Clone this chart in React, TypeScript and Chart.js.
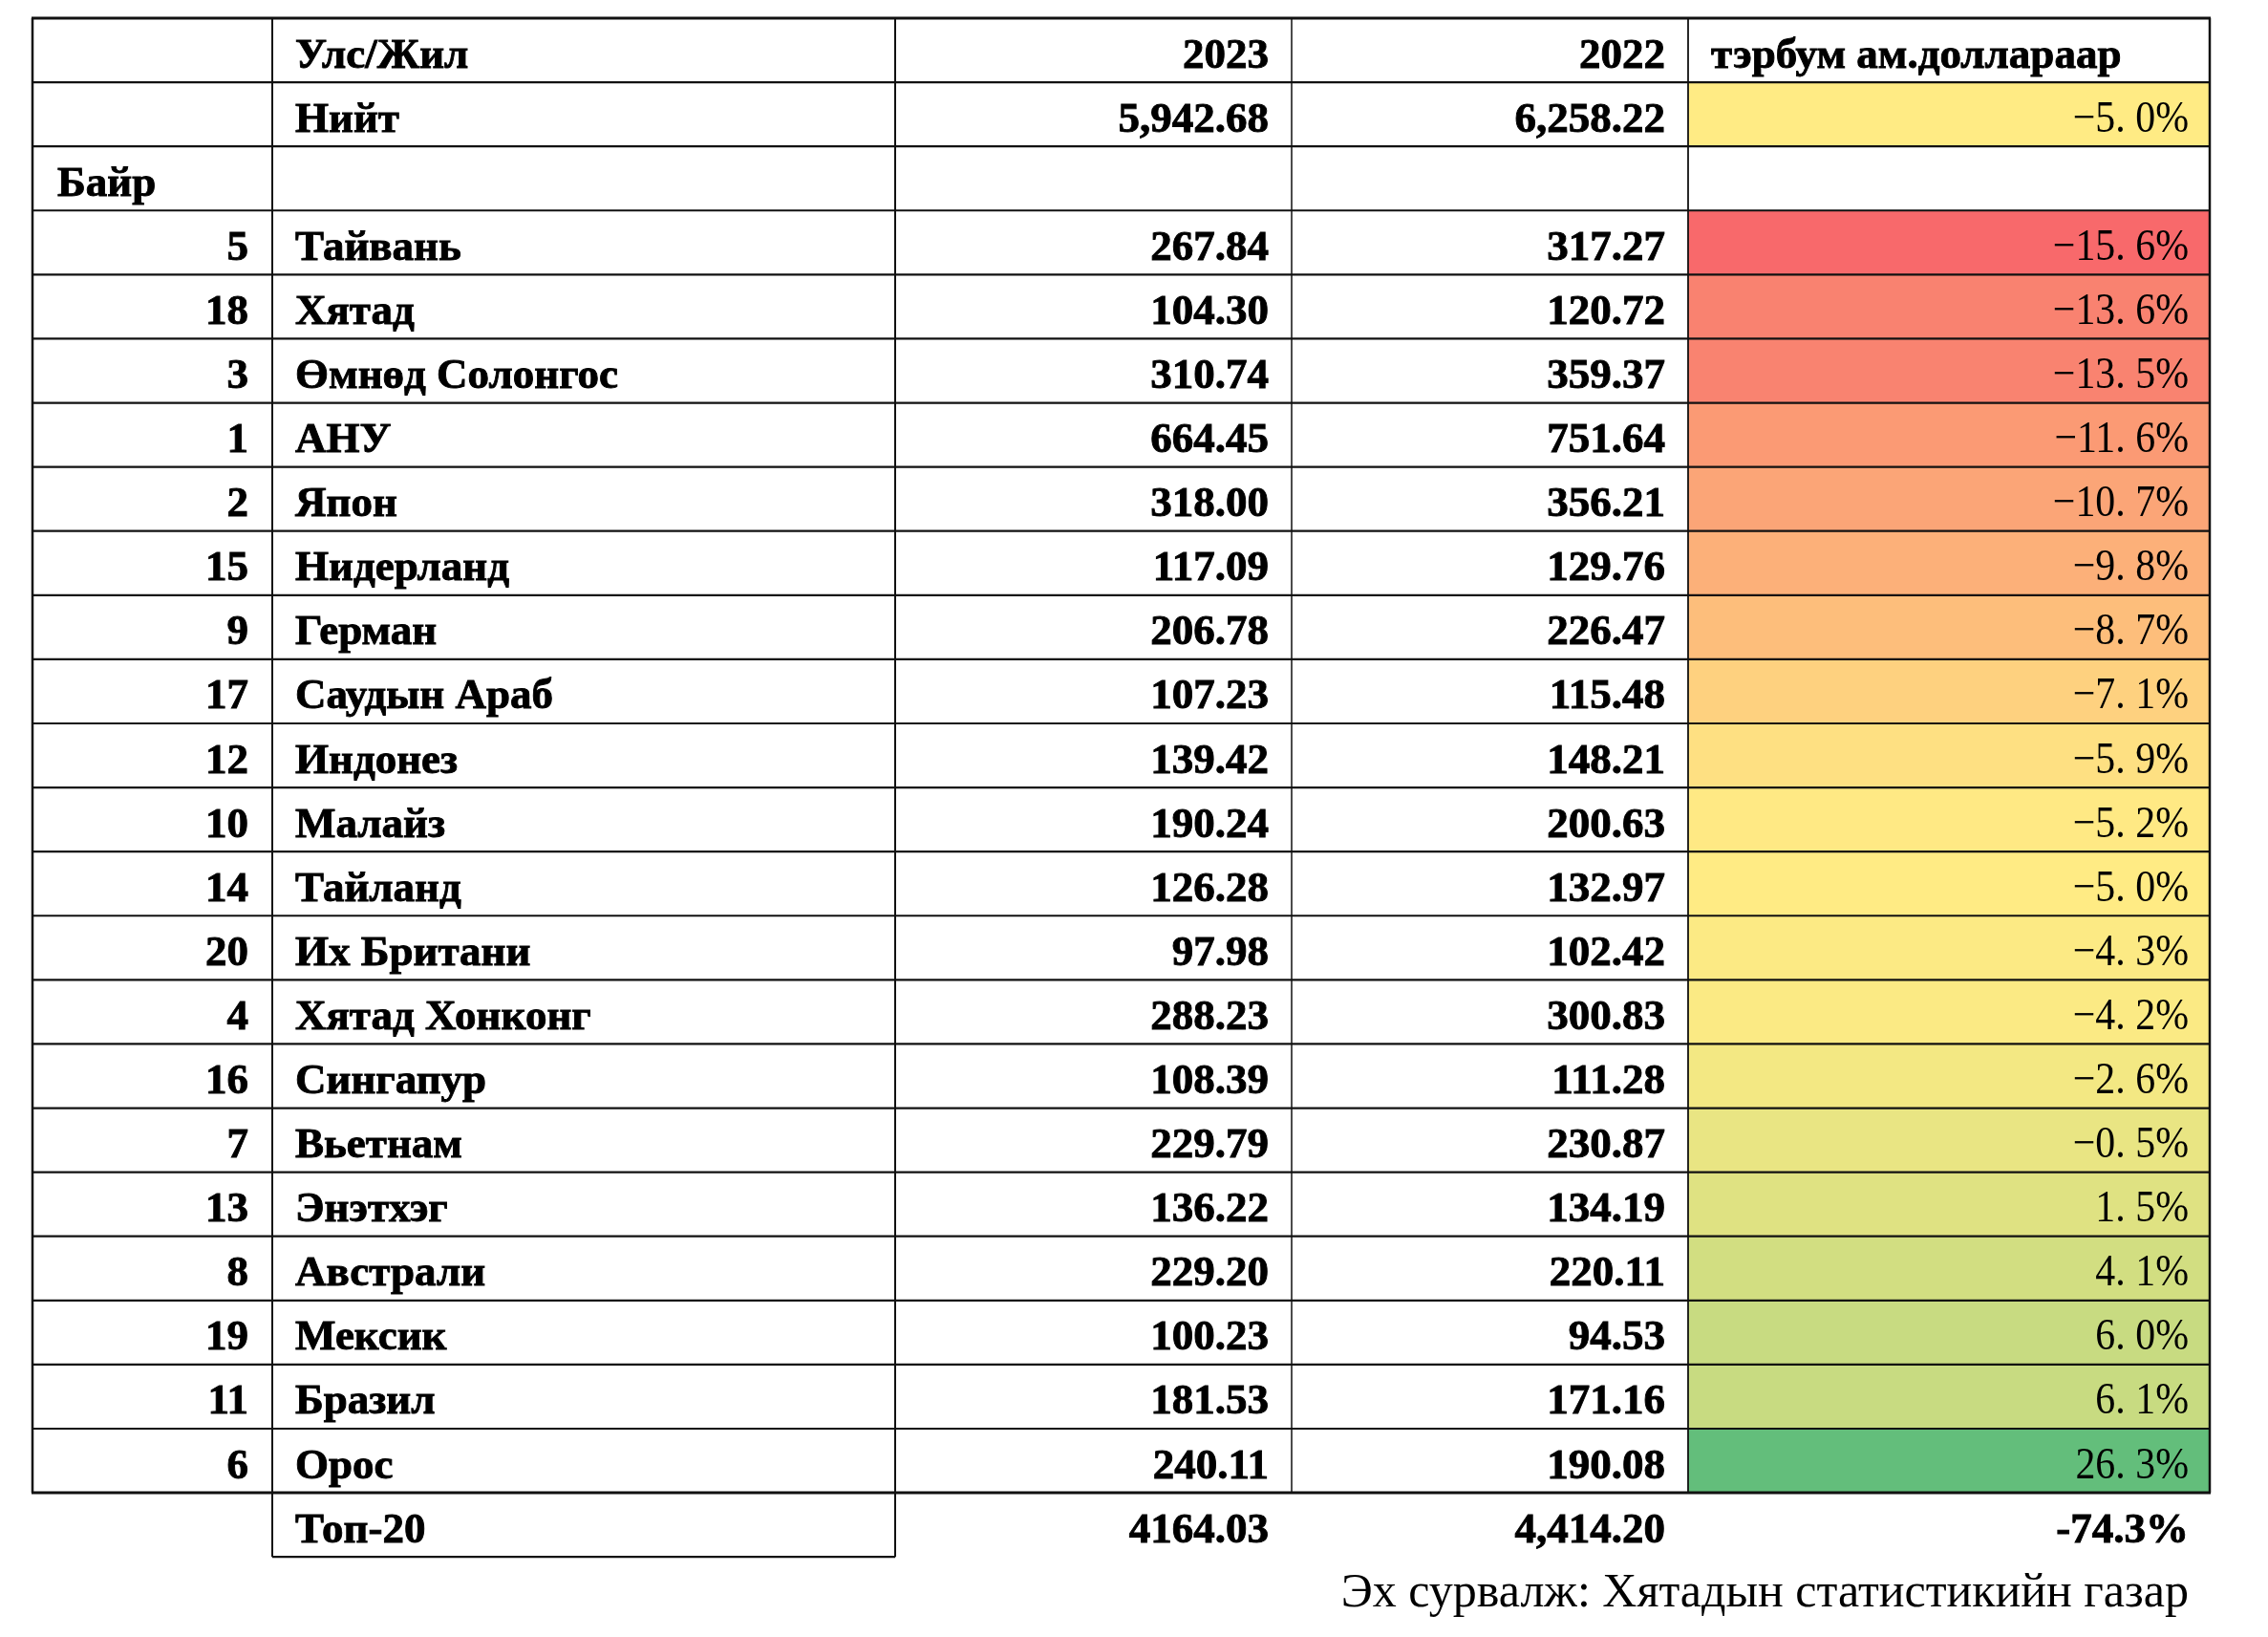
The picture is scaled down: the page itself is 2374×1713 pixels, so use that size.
import React, { useEffect, useRef } from "react";
import { Chart, registerables } from "chart.js";

Chart.register(...registerables);

// ---------- data ----------
const headerLabels = ["Улс/Жил", "2023", "2022", "тэрбум ам.доллараар"];
const totalLabel = "Нийт";
const totalValues = [5942.68, 6258.22];
const totalChange = -5.0;
const rankHeader = "Байр";
const ranks = [5, 18, 3, 1, 2, 15, 9, 17, 12, 10, 14, 20, 4, 16, 7, 13, 8, 19, 11, 6];
const countries = [
  "Тайвань", "Хятад", "Өмнөд Солонгос", "АНУ", "Япон", "Нидерланд", "Герман",
  "Саудын Араб", "Индонез", "Малайз", "Тайланд", "Их Британи", "Хятад Хонконг",
  "Сингапур", "Вьетнам", "Энэтхэг", "Австрали", "Мексик", "Бразил", "Орос",
];
const values2023 = [267.84, 104.3, 310.74, 664.45, 318.0, 117.09, 206.78, 107.23, 139.42, 190.24,
  126.28, 97.98, 288.23, 108.39, 229.79, 136.22, 229.2, 100.23, 181.53, 240.11];
const values2022 = [317.27, 120.72, 359.37, 751.64, 356.21, 129.76, 226.47, 115.48, 148.21, 200.63,
  132.97, 102.42, 300.83, 111.28, 230.87, 134.19, 220.11, 94.53, 171.16, 190.08];
const changePct = [-15.6, -13.6, -13.5, -11.6, -10.7, -9.8, -8.7, -7.1, -5.9, -5.2,
  -5.0, -4.3, -4.2, -2.6, -0.5, 1.5, 4.1, 6.0, 6.1, 26.3];
const top20Label = "Топ-20";
const top20Texts = ["4164.03", "4,414.20", "-74.3%"];
const sourceText = "Эх сурвалж: Хятадын статистикийн газар";

// ---------- layout (styles) ----------
const W = 2374;
const H = 1713;
const COL_EDGES = [0, 251, 903, 1318, 1733, 2279]; // x-scale units
const ROW_H = 67.09;
const N_ROWS = 25;
const PAD = { left: 34, right: W - 34 - 2279, top: 19, bottom: H - 19 - N_ROWS * ROW_H };
const BOLD = "bold 45px 'Liberation Serif', 'Times New Roman', serif";
const REG = "50px 'Liberation Serif', 'Times New Roman', serif";
const PCT_FONT = "45px 'Liberation Serif', 'Times New Roman', serif";

const rowKeys = Array.from({ length: N_ROWS }, (_, i) => "r" + i);

function fmt(v: number, comma: boolean) {
  const s = v.toFixed(2);
  if (!comma) return s;
  const [a, b] = s.split(".");
  return a.replace(/\B(?=(\d{3})+(?!\d))/g, ",") + "." + b;
}
function fmtPct(v: number) {
  const s = Math.abs(v).toFixed(1);
  const [a, b] = s.split(".");
  return (v < 0 ? "−" : "") + a + ". " + b + "%";
}

function colorScale(v: number, lo: number, mid: number, hi: number) {
  const red = [248, 105, 107];
  const yel = [255, 235, 132];
  const grn = [99, 190, 123];
  let a: number[], b: number[], t: number;
  if (v <= mid) {
    a = red; b = yel; t = (v - lo) / (mid - lo || 1);
  } else {
    a = yel; b = grn; t = (v - mid) / (hi - mid || 1);
  }
  t = Math.max(0, Math.min(1, t));
  const c = a.map((x, i) => Math.round(x + (b[i] - x) * t));
  return `rgb(${c[0]},${c[1]},${c[2]})`;
}

export default function App() {
  const ref = useRef<HTMLCanvasElement>(null);
  useEffect(() => {
    const all = [totalChange, ...changePct].slice().sort((a, b) => a - b);
    const lo = all[0];
    const hi = all[all.length - 1];
    const mid = all[Math.floor(all.length / 2)];

    const barData: any[] = rowKeys.map(() => null);
    const barColors: string[] = rowKeys.map(() => "rgba(0,0,0,0)");
    barData[1] = [COL_EDGES[4], COL_EDGES[5]];
    barColors[1] = colorScale(totalChange, lo, mid, hi);
    changePct.forEach((v, i) => {
      barData[3 + i] = [COL_EDGES[4], COL_EDGES[5]];
      barColors[3 + i] = colorScale(v, lo, mid, hi);
    });

    const tablePlugin = {
      id: "tablePlugin",
      afterDatasetsDraw(chart: any) {
        const ctx = chart.ctx as CanvasRenderingContext2D;
        const xs = chart.scales.x;
        const ys = chart.scales.y;
        const X = (v: number) => xs.getPixelForValue(v);
        const half = (ys.getPixelForValue(1) - ys.getPixelForValue(0)) / 2;
        const top = (r: number) => ys.getPixelForValue(r) - half;
        const base = (r: number) => ys.getPixelForValue(r) + half - 15.5;
        ctx.save();
        const hline = (y: number, x0: number, x1: number, w: number) => {
          ctx.beginPath(); ctx.lineWidth = w; ctx.strokeStyle = "#111";
          ctx.moveTo(x0, y); ctx.lineTo(x1, y); ctx.stroke();
        };
        const vline = (x: number, y0: number, y1: number, w: number) => {
          ctx.beginPath(); ctx.lineWidth = w; ctx.strokeStyle = "#111";
          ctx.moveTo(x, y0); ctx.lineTo(x, y1); ctx.stroke();
        };
        for (let r = 0; r <= 23; r++) {
          hline(top(r), X(COL_EDGES[0]) - 1, X(COL_EDGES[5]) + 1, r === 0 || r === 23 ? 3 : 2.2);
        }
        hline(top(24), X(COL_EDGES[1]), X(COL_EDGES[2]), 2.2);
        vline(X(COL_EDGES[0]), top(0), top(23), 2.5);
        vline(X(COL_EDGES[1]), top(0), top(24), 2);
        vline(X(COL_EDGES[2]), top(0), top(24), 2);
        vline(X(COL_EDGES[3]), top(0), top(23), 1.5);
        vline(X(COL_EDGES[4]), top(0), top(23), 1.8);
        vline(X(COL_EDGES[5]), top(0), top(23), 2.5);

        ctx.fillStyle = "#000";
        ctx.strokeStyle = "#000";
        const text = (s: string, x: number, r: number, align: CanvasTextAlign, font: string) => {
          ctx.font = font; ctx.textAlign = align; ctx.textBaseline = "alphabetic";
          ctx.fillText(s, x, base(r));
          if (font === BOLD) {
            ctx.lineWidth = 0.9;
            ctx.strokeText(s, x, base(r));
          }
        };
        const pct = (s: string, x: number, r: number) => {
          ctx.save();
          ctx.translate(x, base(r));
          ctx.scale(0.93, 1.04);
          ctx.font = PCT_FONT; ctx.textAlign = "right"; ctx.textBaseline = "alphabetic";
          ctx.fillText(s, 0, 0);
          ctx.restore();
        };
        const cLeft = X(275), rankR = X(226), c23 = X(1294), c22 = X(1709), cPct = X(2257);
        // header
        text(headerLabels[0], cLeft, 0, "left", BOLD);
        text(headerLabels[1], c23, 0, "right", BOLD);
        text(headerLabels[2], c22, 0, "right", BOLD);
        text(headerLabels[3], X(1757), 0, "left", BOLD);
        // total
        text(totalLabel, cLeft, 1, "left", BOLD);
        text(fmt(totalValues[0], true), c23, 1, "right", BOLD);
        text(fmt(totalValues[1], true), c22, 1, "right", BOLD);
        pct(fmtPct(totalChange), cPct, 1);
        // rank header
        text(rankHeader, X(26), 2, "left", BOLD);
        // rows
        countries.forEach((c, i) => {
          const r = 3 + i;
          text(String(ranks[i]), rankR, r, "right", BOLD);
          text(c, cLeft, r, "left", BOLD);
          text(fmt(values2023[i], false), c23, r, "right", BOLD);
          text(fmt(values2022[i], false), c22, r, "right", BOLD);
          pct(fmtPct(changePct[i]), cPct, r);
        });
        // top-20
        text(top20Label, cLeft, 23, "left", BOLD);
        text(top20Texts[0], c23, 23, "right", BOLD);
        text(top20Texts[1], c22, 23, "right", BOLD);
        text(top20Texts[2], cPct, 23, "right", BOLD);
        // source
        text(sourceText, cPct, 24, "right", REG);
        ctx.restore();
      },
    };

    const chart = new Chart(ref.current!, {
      type: "bar",
      data: {
        labels: rowKeys,
        datasets: [
          {
            data: barData,
            backgroundColor: barColors,
            borderWidth: 0,
            barPercentage: 1,
            categoryPercentage: 1,
          },
        ],
      },
      options: {
        indexAxis: "y",
        animation: false,
        responsive: false,
        layout: { padding: PAD },
        plugins: { legend: { display: false }, tooltip: { enabled: false } },
        scales: {
          x: { type: "linear", min: 0, max: COL_EDGES[5], display: false },
          y: { type: "category", display: false, offset: true },
        },
      },
      plugins: [tablePlugin],
    } as any);
    return () => chart.destroy();
  }, []);

  return (
    <div style={{ position: "fixed", left: 0, top: 0, width: W, height: H, background: "#fff" }}>
      <canvas ref={ref} width={W} height={H} style={{ width: W, height: H, display: "block" }} />
    </div>
  );
}
